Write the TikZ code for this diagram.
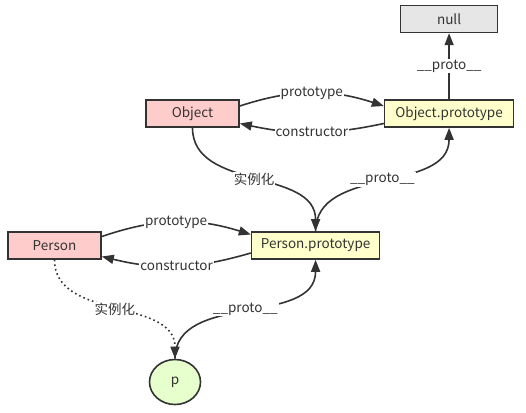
\documentclass[tikz,border=0pt]{standalone}
\usepackage{fontspec}
\setmainfont{Noto Sans CJK SC}
\usetikzlibrary{positioning,arrows.meta,shapes.geometric}
\definecolor{ink}{HTML}{333333}
\definecolor{ctorred}{HTML}{FFCCCC}
\definecolor{protoyellow}{HTML}{FFFFCC}
\definecolor{nullgray}{HTML}{E6E6E6}
\definecolor{instgreen}{HTML}{E6FFCC}

\begin{document}
\begin{tikzpicture}[x=1pt, y=1pt, color=ink, line width=1.6pt,
  font=\fontsize{13.5}{15}\selectfont, >={Triangle[length=12pt,width=9pt]},
  box/.style={draw, minimum height=27pt, inner sep=2pt},
  lbl/.style={fill=white, inner sep=1pt}]
  \useasboundingbox (0,0) rectangle (526,-412);
  \node[box, fill=ctorred, minimum width=93pt] (obj) at (192.5,-113.5) {Object};
  \node[box, fill=protoyellow, minimum width=129pt, right=144pt of obj] (objp) {Object.prototype};
  \node[box, fill=nullgray, minimum width=97pt, above=66pt of objp] (null) {null};
  \node[box, fill=ctorred, minimum width=93pt] (person) at (54.5,-245.5) {Person};
  \node[box, fill=protoyellow, minimum width=128pt, right=149pt of person] (personp) {Person.prototype};
  \node[ellipse, draw, fill=instgreen, minimum width=51pt, minimum height=45pt] (p) at (175,-382) {p};
  % Object <-> Object.prototype
  \draw[->] ([yshift=7.5pt]obj.east) to[bend left=18] node[lbl] {prototype} ([yshift=7.5pt]objp.west);
  \draw[->] ([yshift=-10pt]objp.west) to[bend left=12] node[lbl] {constructor} ([yshift=-10pt]obj.east);
  \draw[->] (objp) -- node[lbl] {\_\_proto\_\_} (null);
  % Object -> Person.prototype -> Object.prototype
  \draw[->] (obj.south) to[out=-90, in=90] node[lbl] {实例化} (personp.north);
  \draw[->] (personp.north) to[out=90, in=-90] node[lbl] {\_\_proto\_\_} (objp.south);
  % Person <-> Person.prototype
  \draw[->] ([yshift=9pt]person.east) to[bend left=18] node[lbl] {prototype} ([yshift=11pt]personp.west);
  \draw[->] ([yshift=-7.5pt]personp.west) to[bend left=15] node[lbl] {constructor} ([yshift=-11pt]person.east);
  % Person -> p -> Person.prototype
  \draw[->, dash pattern=on 1.6pt off 3pt] (person.south) to[out=-90, in=90] node[lbl] {实例化} (p.north);
  \draw[->] (p.north) to[out=90, in=-90] node[lbl] {\_\_proto\_\_} (personp.south);
\end{tikzpicture}
\end{document}
